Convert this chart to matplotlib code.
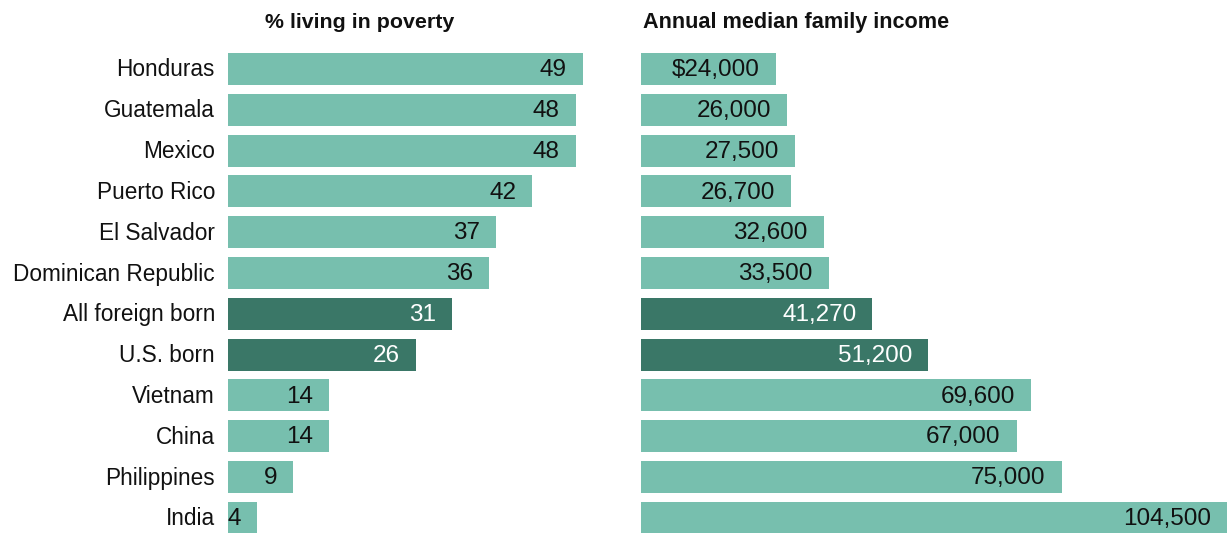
import matplotlib.pyplot as plt
import numpy as np

# Poverty and income by country of birth -----------------------------
countries = ["Honduras", "Guatemala", "Mexico", "Puerto Rico", "El Salvador",
             "Dominican Republic", "All foreign born", "U.S. born", "Vietnam",
             "China", "Philippines", "India"]
poverty_pct = [49, 48, 48, 42, 37, 36, 31, 26, 14, 14, 9, 4]
median_income = [24000, 26000, 27500, 26700, 32600, 33500, 41270, 51200,
                 69600, 67000, 75000, 104500]
highlight = ["All foreign born", "U.S. born"]

light = "#77bfae"
dark = "#3a7767"
plt.rcParams['font.family'] = ['Liberation Sans', 'DejaVu Sans']

W, H = 1227, 533
fig = plt.figure(figsize=(W / 100, H / 100), dpi=100)

row_top = 69      # pixel centre of first row
row_step = 40.8   # pixels between rows
y_lo = -row_top / row_step
y_hi = (H - row_top) / row_step


def make_axes(x0, x1):
    ax = fig.add_axes([x0 / W, 0, (x1 - x0) / W, 1])
    ax.set_ylim(y_hi, y_lo)
    ax.axis("off")
    return ax


ax1 = make_axes(228, 600)
ax1.set_xlim(0, 372 / 7.24)
ax2 = make_axes(641, 1227)
ax2.set_xlim(0, 104500)

ypos = np.arange(len(countries))
colors = [dark if c in highlight else light for c in countries]

ax1.barh(ypos, poverty_pct, height=0.78, color=colors)
ax2.barh(ypos, median_income, height=0.78, color=colors)

px1 = 1 / 7.24            # one pixel in left-axis units
px2 = 104500 / 586        # one pixel in right-axis units
for i, c in enumerate(countries):
    tc = "white" if c in highlight else "#111111"
    ax1.text(poverty_pct[i] - 16 * px1, i + 0.03, str(poverty_pct[i]),
             ha="right", va="center", fontsize=17.5, color=tc)
    lbl = f"{median_income[i]:,}"
    if i == 0:
        lbl = "$" + lbl
    ax2.text(median_income[i] - 16 * px2, i + 0.03, lbl,
             ha="right", va="center", fontsize=17.5, color=tc)
    fig.text(215 / W, 1 - (row_top + 1 + i * row_step) / H, c,
             ha="right", va="center", fontsize=16.3, color="#111111")

fig.text(360 / W, 1 - 22 / H, "% living in poverty", ha="center", va="center",
         fontsize=15.4, fontweight="bold", color="#111111")
fig.text(643 / W, 1 - 22 / H, "Annual median family income", ha="left", va="center",
         fontsize=15.6, fontweight="bold", color="#111111")

fig.savefig("out.png", dpi=100)
